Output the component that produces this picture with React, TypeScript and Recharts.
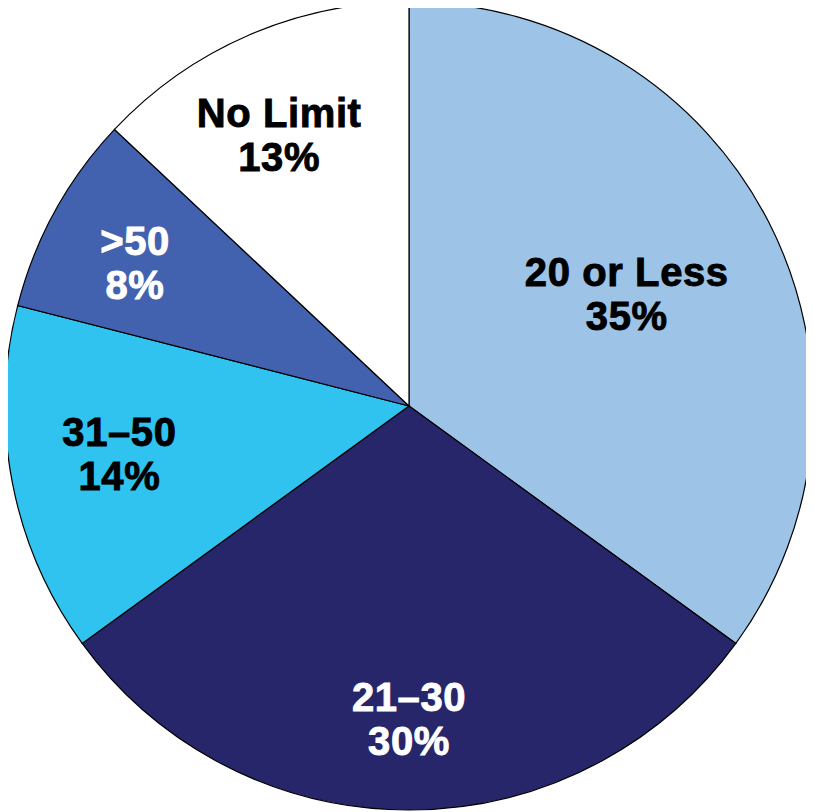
import React from "react";
import { PieChart, Pie, Cell } from "recharts";

const categories = ["20 or Less", "21–30", "31–50", ">50", "No Limit"];
const shares = [35, 30, 14, 8, 13];
const sliceColors = ["#9DC3E6", "#27266B", "#30C3EF", "#4262B0", "#FFFFFF"];
const labelColors = ["#000000", "#FFFFFF", "#000000", "#FFFFFF", "#000000"];
// label placement: fraction of the radius and angular nudge (degrees) from the slice middle
const labelRadius = [0.606, 0.774, 0.7265, 0.765, 0.744];
const labelAngleShift = [0.2, 0, -1.4, 1.24, 2.2];

const data = categories.map((name, i) => ({ name, value: shares[i] }));

const RADIAN = Math.PI / 180;

const renderLabel = (props: any) => {
  const { cx, cy, midAngle, outerRadius, index } = props;
  const r = outerRadius * labelRadius[index];
  const a = (midAngle + labelAngleShift[index]) * RADIAN;
  const x = cx + r * Math.cos(-a);
  const y = cy + r * Math.sin(-a);
  const fill = labelColors[index];
  const style = {
    fontFamily: "'Liberation Sans', Arial, sans-serif",
    fontWeight: 700,
    fontSize: 40,
    letterSpacing: 0.6,
  };
  return (
    <text
      x={x}
      y={y}
      textAnchor="middle"
      fill={fill}
      stroke={fill}
      strokeWidth={0.9}
      style={style}
    >
      <tspan x={x} dy={-8}>{categories[index]}</tspan>
      <tspan x={x} dy={44}>{`${shares[index]}%`}</tspan>
    </text>
  );
};

export default function App() {
  return (
    <div style={{ position: "relative", left: -8, top: -8, width: 814, height: 812 }}>
      <PieChart width={814} height={812} margin={{ top: 0, right: 0, bottom: 0, left: 0 }}>
        <Pie
          data={data}
          dataKey="value"
          nameKey="name"
          cx={409}
          cy={406}
          outerRadius={404}
          startAngle={90}
          endAngle={-270}
          stroke="#000000"
          strokeWidth={1.2}
          label={renderLabel}
          labelLine={false}
          isAnimationActive={false}
        >
          {data.map((d, i) => (
            <Cell key={d.name} fill={sliceColors[i]} />
          ))}
        </Pie>
      </PieChart>
    </div>
  );
}
